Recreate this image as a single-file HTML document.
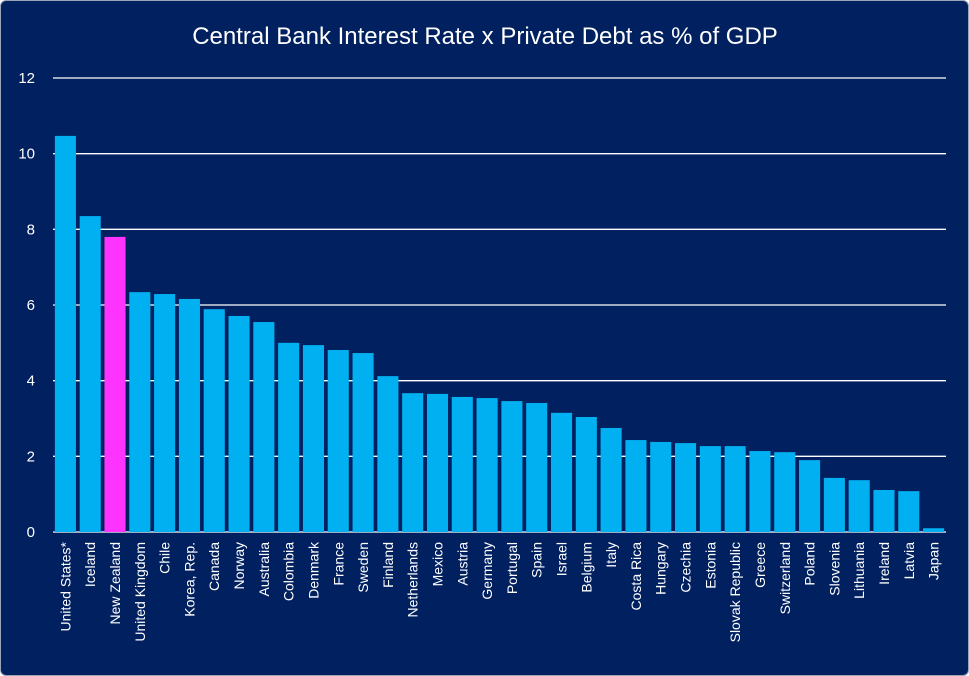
<!DOCTYPE html>
<html><head><meta charset="utf-8">
<style>
html,body{margin:0;padding:0;background:#fff;}
#frame{position:absolute;left:0;top:0;width:967px;height:674px;background:#002060;border:1px solid #9aa3b8;border-radius:6px;overflow:hidden;}
svg text{font-family:"Liberation Sans",sans-serif;fill:#fff;}
</style></head>
<body>
<div id="frame">
<svg id="chart" width="969" height="676">
<text x="484" y="43" text-anchor="middle" font-size="24">Central Bank Interest Rate x Private Debt as % of GDP</text>
<g id="grid"></g><g id="bars"></g><g id="xlabels"></g>
</svg>
</div>
<script>
const categories=["United States*","Iceland","New Zealand","United Kingdom","Chile","Korea, Rep.","Canada","Norway","Australia","Colombia","Denmark","France","Sweden","Finland","Netherlands","Mexico","Austria","Germany","Portugal","Spain","Israel","Belgium","Italy","Costa Rica","Hungary","Czechia","Estonia","Slovak Republic","Greece","Switzerland","Poland","Slovenia","Lithuania","Ireland","Latvia","Japan"];
const values=[10.47,8.35,7.8,6.34,6.29,6.16,5.89,5.71,5.55,5.0,4.94,4.81,4.73,4.12,3.67,3.65,3.57,3.54,3.46,3.41,3.15,3.04,2.75,2.43,2.38,2.35,2.27,2.27,2.14,2.11,1.9,1.43,1.37,1.11,1.08,0.1];
const highlight=["New Zealand"];
const yTicks=[0,2,4,6,8,10,12];

const NS="http://www.w3.org/2000/svg";
const x0=52,x1=945,y0=531,yTop=77,yMax=12;
const y=v=>y0-(v/yMax)*(y0-yTop);
const band=(x1-x0)/categories.length;
const xb=i=>x0+i*band;
const grid=document.getElementById('grid'),bars=document.getElementById('bars'),xl=document.getElementById('xlabels');
yTicks.forEach(t=>{
  const l=document.createElementNS(NS,'line');
  l.setAttribute('x1',x0);l.setAttribute('x2',x1);l.setAttribute('y1',y(t));l.setAttribute('y2',y(t));
  l.setAttribute('stroke','#fff');l.setAttribute('stroke-width','1.3');
  
  
  grid.appendChild(l);
  const tx=document.createElementNS(NS,'text');
  tx.setAttribute('x',34);tx.setAttribute('y',y(t)+5);tx.setAttribute('text-anchor','end');tx.setAttribute('font-size','15');
  tx.textContent=t;
  
  
  grid.appendChild(tx);
});
const bw=band*0.85;
categories.forEach((c,i)=>{
  const r=document.createElementNS(NS,'rect');
  const cx=xb(i)+band/2;
  r.setAttribute('x',cx-bw/2);r.setAttribute('width',bw);
  r.setAttribute('y',y(values[i]));r.setAttribute('height',y0-y(values[i]));
  r.setAttribute('fill',highlight.includes(c)?'#FF33FF':'#00B0F0');
  
  
  bars.appendChild(r);
  const t=document.createElementNS(NS,'text');
  t.setAttribute('transform','translate('+(cx+5)+',541) rotate(-90)');
  t.setAttribute('text-anchor','end');t.setAttribute('font-size','14');
  t.textContent=c;
  
  
  xl.appendChild(t);
});
</script>
</body></html>
